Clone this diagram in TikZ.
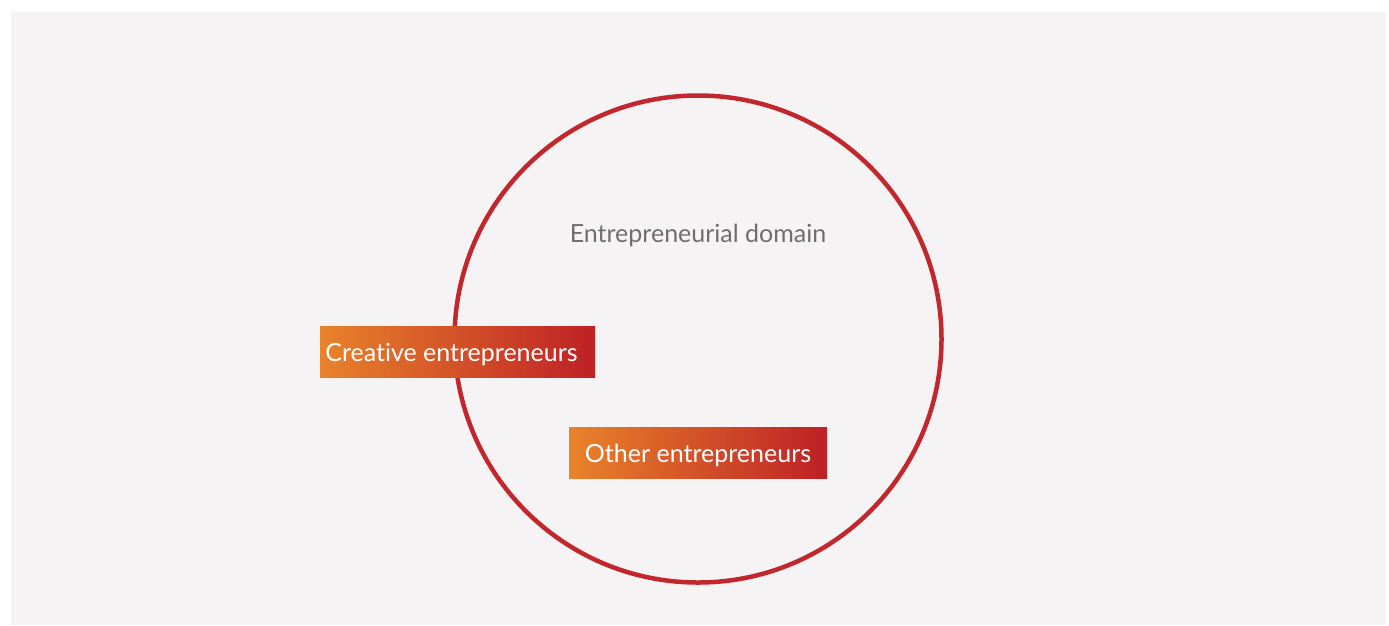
\documentclass[tikz,border=0pt]{standalone}
\usepackage{fontspec}
\setmainfont{Lato}[Ligatures=NoCommon]
\usepackage{xcolor}
\usetikzlibrary{shapes.geometric}
\definecolor{bgpanel}{HTML}{F5F3F4}
\definecolor{ringred}{HTML}{C1272D}
\definecolor{boxorange}{HTML}{E8832A}
\definecolor{boxred}{HTML}{BE2026}
\definecolor{labelgray}{HTML}{6E6E6E}

\tikzset{
    groupbox/.style={shading=axis, left color=boxorange, right color=boxred,
        text=white, font=\fontsize{25}{28}\selectfont, inner sep=0pt,
        text height=22pt, text depth=2pt, anchor=center},
}

\begin{document}
\begin{tikzpicture}[x=1pt,y=-1pt]
        %    \draw [help lines] (0,0) grid (1389,625);
        \useasboundingbox (0,0) rectangle (1389,625);
        \fill [bgpanel] (11,12) rectangle (1386,625);

        % the domain
        \draw [ringred, line width=4.5, line join=round] (698,339) circle [radius=243.5];
        \path node (dom) [text=labelgray, font=\fontsize{25}{28}\selectfont] at (698,235) {Entrepreneurial domain};

        % the two groups
        \path node (cre) [groupbox, minimum width=275, minimum height=51] at (457.5,351.5) {\hspace*{-12pt}Creative entrepreneurs};
        \path node (oth) [groupbox, minimum width=258, minimum height=51] at (698,452.5) {Other entrepreneurs};

    \end{tikzpicture}
\end{document}
